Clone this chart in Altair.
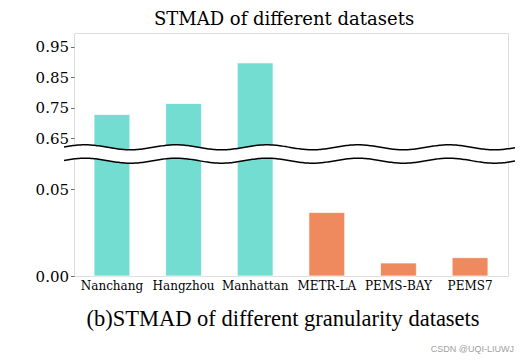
import altair as alt
import numpy as np
import pandas as pd

# ---- data ----
datasets = ["Nanchang", "Hangzhou", "Manhattan", "METR-LA", "PEMS-BAY", "PEMS7"]
stmad = [0.728, 0.764, 0.897, 0.0367, 0.0075, 0.0106]
groups = ["coarse", "coarse", "coarse", "fine", "fine", "fine"]
group_colors = ["#74DDD2", "#EE8A5D"]
y_ticks = [0.00, 0.05, 0.65, 0.75, 0.85, 0.95]
# broken-axis limits: lower panel [0, 0.067], upper panel [0.623, 0.995]
y_break_domain = [0.0, 0.067, 0.623, 0.995]
title_text = ["STMAD of different datasets"]
caption_text = ["(b)STMAD of different granularity datasets"]
watermark_text = ["CSDN @UQI-LIUWJ"]

W, H = 434, 243
y_break_range = [H, 127, 113.5, 0]

bars_df = pd.DataFrame({"dataset": datasets, "value": stmad, "group": groups})

# decorative break waves (pixel space)
xs = np.linspace(-10, 441, 300)
phase = 2 * np.pi * (xs + 74 - 358) / 91.0
up = 114.3 - 2.5 * np.cos(phase)
lo = 127.7 - 2.5 * np.cos(phase)
wave_df = pd.DataFrame({"x": xs, "up": up, "lo": lo})

bars = alt.Chart(bars_df).mark_bar(stroke="white", strokeWidth=1, strokeOpacity=0.7).encode(
    x=alt.X("dataset:N", sort=datasets,
            scale=alt.Scale(paddingInner=0.5, paddingOuter=0.28),
            axis=alt.Axis(labelAngle=0, labelFont="DejaVu Serif", labelFontSize=12,
                          labelColor="black", ticks=False, domain=False, labelPadding=4,
                          title=None)),
    y=alt.Y("value:Q",
            scale=alt.Scale(domain=y_break_domain, range=y_break_range, nice=False, zero=False),
            axis=alt.Axis(values=y_ticks, format=".2f", title=None, grid=False, domain=False,
                          labelFont="DejaVu Serif", labelFontSize=15, labelColor="black",
                          tickColor="#444", tickSize=3.5, tickWidth=0.8, labelPadding=2)),
    y2=alt.datum(0),
    color=alt.Color("group:N", scale=alt.Scale(domain=["coarse", "fine"], range=group_colors),
                    legend=None),
)

gap = alt.Chart(wave_df).mark_area(color="white", opacity=1).encode(
    x=alt.X("x:Q", scale=None, axis=None),
    y=alt.Y("up:Q", scale=None, axis=None),
    y2="lo:Q",
)
wave_up = alt.Chart(wave_df).mark_line(color="black", strokeWidth=1.5).encode(
    x=alt.X("x:Q", scale=None, axis=None),
    y=alt.Y("up:Q", scale=None, axis=None),
)
wave_lo = alt.Chart(wave_df).mark_line(color="black", strokeWidth=1.5).encode(
    x=alt.X("x:Q", scale=None, axis=None),
    y=alt.Y("lo:Q", scale=None, axis=None),
)

title = alt.Chart(pd.DataFrame({"t": title_text})).mark_text(
    align="center", baseline="alphabetic", font="DejaVu Serif", fontSize=18, color="black"
).encode(x=alt.value(210), y=alt.value(-8), text="t:N")

caption = alt.Chart(pd.DataFrame({"t": caption_text})).mark_text(
    align="center", baseline="alphabetic", font="Liberation Serif", fontSize=22.5, color="black"
).encode(x=alt.value(209), y=alt.value(293), text="t:N")

watermark = alt.Chart(pd.DataFrame({"t": watermark_text})).mark_text(
    align="right", baseline="alphabetic", font="Liberation Sans", fontSize=9, color="#a0a0a0"
).encode(x=alt.value(440), y=alt.value(319), text="t:N")

chart = alt.layer(bars, gap, wave_up, wave_lo, title, caption, watermark).resolve_scale(
    x="independent", y="independent"
).properties(
    width=W, height=H,
    autosize=alt.AutoSizeParams(type="none"),
    padding={"left": 66, "top": 25, "right": 7, "bottom": 79},
).configure_view(stroke="#b3b3b3", strokeWidth=1).configure(background="white")

chart.save("out.html", embed_options={"renderer": "svg", "actions": False})
